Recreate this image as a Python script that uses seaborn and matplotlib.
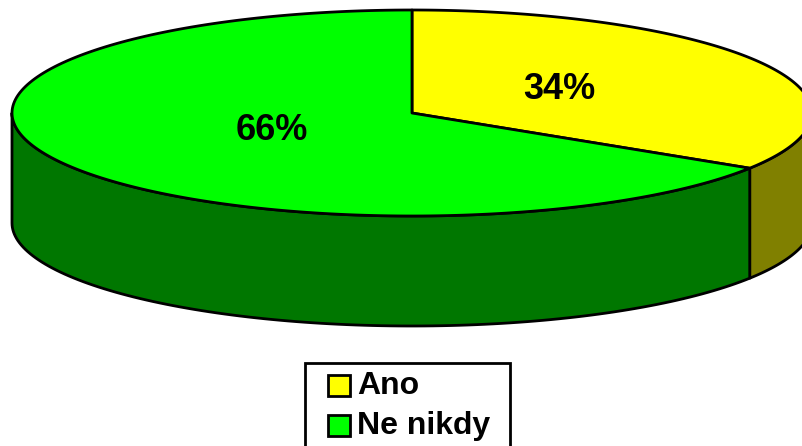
import numpy as np
import matplotlib
matplotlib.use("Agg")
import matplotlib.pyplot as plt
import seaborn as sns
from matplotlib.patches import Polygon, Rectangle

# data
labels = ["Ano", "Ne nikdy"]
shares = [34, 66]
top_colors = ["#FFFF00", "#00FF00"]
side_colors = ["#808000", "#007700"]

sns.set_style("white")
plt.rcParams["font.family"] = ["Liberation Sans", "DejaVu Sans"]

W, H = 803, 446
fig = plt.figure(figsize=(W / 100, H / 100), dpi=100)
ax = fig.add_axes([0, 0, 1, 1])
ax.set_xlim(0, W)
ax.set_ylim(H, 0)
ax.axis("off")

# ellipse geometry (pixels)
cx, cy, rx, ry, depth = 412, 113, 400, 103, 110
LW = 2.0


def pt(t, dy=0):
    return cx + rx * np.cos(t), cy - ry * np.sin(t) + dy


# slice angles: start at top, go clockwise
fracs = np.array(shares) / sum(shares)
starts = np.radians(90 - 360 * np.concatenate([[0], np.cumsum(fracs)[:-1]]))
ends = starts - np.radians(360 * fracs)

# sides (front half only: angles between pi and 2pi)
for s, e, col in zip(starts, ends, side_colors):
    lo = e % (2 * np.pi)
    hi = lo + (s - e)
    for k in range(-1, 2):
        a = max(lo + 2 * np.pi * k, np.pi)
        b = min(hi + 2 * np.pi * k, 2 * np.pi)
        if b > a:
            t = np.linspace(a, b, 120)
            xt, yt = pt(t)
            xb, yb = pt(t[::-1], depth)
            verts = np.column_stack([np.r_[xt, xb], np.r_[yt, yb]])
            ax.add_patch(Polygon(verts, closed=True, facecolor=col,
                                 edgecolor="black", lw=LW, joinstyle="round"))

# top faces
for s, e, col in zip(starts, ends, top_colors):
    t = np.linspace(s, e, 200)
    xs, ys = pt(t)
    verts = np.column_stack([np.r_[cx, xs], np.r_[cy, ys]])
    ax.add_patch(Polygon(verts, closed=True, facecolor=col,
                         edgecolor="black", lw=LW, joinstyle="round"))

# percentage labels
for s, e, v in zip(starts, ends, shares):
    x, y = pt((s + e) / 2)
    x = cx + 0.41 * (x - cx) + 3.5
    y = cy + 0.41 * (y - cy) - 3
    ax.text(x, y, f"{v}%", ha="center", va="center",
            fontsize=26, fontweight="bold", color="black")

# legend box
ax.add_patch(Rectangle((305, 363), 205, 100, facecolor="white",
                       edgecolor="black", lw=LW, clip_on=True))
for i, (lab, col) in enumerate(zip(labels, top_colors)):
    yc = 385 + 40 * i
    ax.add_patch(Rectangle((328, yc - 10.5), 22, 21, facecolor=col,
                           edgecolor="black", lw=LW))
    ax.text(357, yc + 1, lab, ha="left", va="center", fontsize=23,
            fontweight="bold", color="black")

fig.savefig("out.png", dpi=100)
